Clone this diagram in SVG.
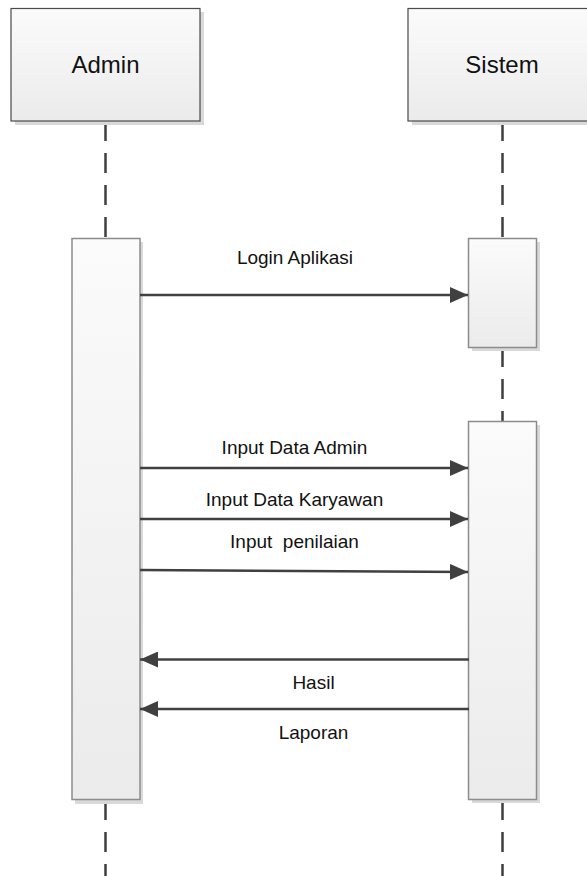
<svg xmlns="http://www.w3.org/2000/svg" width="587" height="876" viewBox="0 0 587 876">
<style>
.bg{fill:#ffffff}
.shadow{fill:#d9d9d9}
.head{fill:url(#g1);stroke:#4a4a4a;stroke-width:1.2}
.act{fill:url(#g1);stroke:#8c8c8c;stroke-width:1.5}
.life{stroke:#3f3f3f;stroke-width:2.5;stroke-dasharray:20 12;fill:none}
.msg{stroke:#404040;stroke-width:2.5;fill:none}
.t1{font-family:"Liberation Sans",Arial,sans-serif;font-size:24px;fill:#111;text-anchor:middle}
.t2{font-family:"Liberation Sans",Arial,sans-serif;font-size:19px;fill:#111;text-anchor:middle;white-space:pre}
</style>
<defs>
<linearGradient id="g1" x1="0" y1="0" x2="0" y2="1">
<stop offset="0" stop-color="#fbfbfb"/>
<stop offset="1" stop-color="#ebebeb"/>
</linearGradient>
<marker id="ah" markerWidth="18" markerHeight="16" refX="18" refY="8" orient="auto" markerUnits="userSpaceOnUse">
<path d="M0,0 L18,8 L0,16 Z" fill="#404040"/>
</marker>
</defs>
<rect class="bg" x="0" y="0" width="587" height="876"/>

<g id="lifelines">
<line class="life" x1="105.5" y1="121" x2="105.5" y2="238"/>
<line class="life" x1="105.5" y1="800" x2="105.5" y2="876"/>
<line class="life" x1="502.5" y1="121" x2="502.5" y2="238"/>
<line class="life" x1="502.5" y1="347" x2="502.5" y2="421"/>
<line class="life" x1="502.5" y1="800" x2="502.5" y2="876"/>
</g>

<g id="admin">
<rect class="shadow" x="15" y="12" width="189" height="113"/>
<rect class="head" x="11" y="8.5" width="189" height="112.5"/>
<text class="t1" x="105.5" y="73">Admin</text>
</g>

<g id="sistem">
<rect class="shadow" x="412" y="12" width="189" height="113"/>
<rect class="head" x="408" y="8.5" width="189" height="112.5"/>
<text class="t1" x="502" y="73">Sistem</text>
</g>

<g id="admin-activation">
<rect class="shadow" x="75" y="242" width="68" height="562"/>
<rect class="act" x="72" y="238.5" width="68" height="561"/>
</g>

<g id="sistem-activation-1">
<rect class="shadow" x="472" y="242" width="68" height="109"/>
<rect class="act" x="468.5" y="238.5" width="68" height="109"/>
</g>

<g id="sistem-activation-2">
<rect class="shadow" x="472" y="425" width="68" height="378"/>
<rect class="act" x="468.5" y="421.5" width="68" height="378"/>
</g>

<g id="connectors">
<line class="msg" x1="140" y1="295" x2="468" y2="295" marker-end="url(#ah)"/>
<line class="msg" x1="140" y1="468" x2="468" y2="468" marker-end="url(#ah)"/>
<line class="msg" x1="140" y1="519" x2="468" y2="519" marker-end="url(#ah)"/>
<line class="msg" x1="140" y1="570" x2="468" y2="572" marker-end="url(#ah)"/>
<line class="msg" x1="469" y1="659.5" x2="140" y2="659.5" marker-end="url(#ah)"/>
<line class="msg" x1="469" y1="709" x2="140" y2="709" marker-end="url(#ah)"/>
<text class="t2" x="295" y="264">Login Aplikasi</text>
<text class="t2" x="294.5" y="454">Input Data Admin</text>
<text class="t2" x="294.5" y="506">Input Data Karyawan</text>
<text class="t2" x="294.5" y="547.5" xml:space="preserve">Input  penilaian</text>
<text class="t2" x="313.5" y="689">Hasil</text>
<text class="t2" x="313.5" y="739">Laporan</text>
</g>
</svg>
